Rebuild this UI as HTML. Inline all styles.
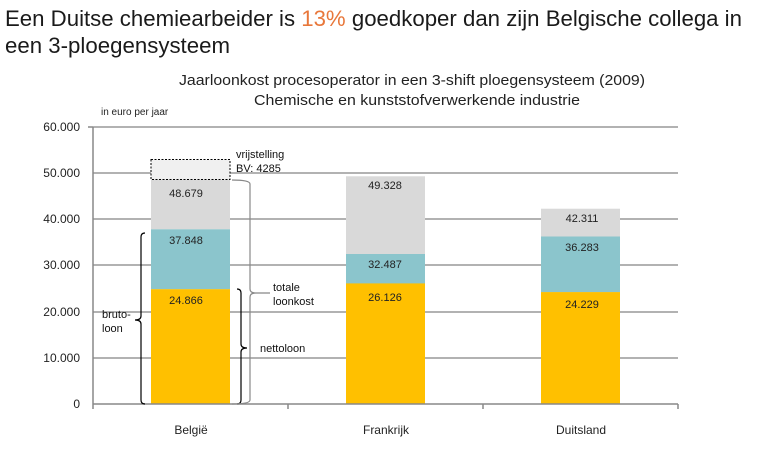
<!DOCTYPE html>
<html><head><meta charset="utf-8"><style>
html,body{margin:0;padding:0;background:#fff;}
svg{display:block;}
</style></head><body>
<svg width="773" height="456" viewBox="0 0 773 456" xmlns="http://www.w3.org/2000/svg" font-family="'Liberation Sans', sans-serif">
<text x="5" y="26" font-size="22" fill="#1a1a1a" textLength="737" lengthAdjust="spacingAndGlyphs">Een Duitse chemiearbeider is <tspan fill="#E8773A">13%</tspan> goedkoper dan zijn Belgische collega in</text>
<text x="5" y="53" font-size="22" fill="#1a1a1a" textLength="225" lengthAdjust="spacingAndGlyphs">een 3-ploegensysteem</text>
<text x="412" y="85" font-size="15" fill="#222" text-anchor="middle" textLength="466" lengthAdjust="spacingAndGlyphs">Jaarloonkost procesoperator in een 3-shift ploegensysteem (2009)</text>
<text x="417" y="105" font-size="15" fill="#222" text-anchor="middle" textLength="326" lengthAdjust="spacingAndGlyphs">Chemische en kunststofverwerkende industrie</text>
<text x="101" y="115" font-size="10" fill="#222">in euro per jaar</text>
<g stroke="#999" stroke-width="1.5">
<line x1="93" y1="127" x2="678" y2="127"/><line x1="93" y1="173" x2="678" y2="173"/><line x1="93" y1="219" x2="678" y2="219"/><line x1="93" y1="265" x2="678" y2="265"/><line x1="93" y1="312" x2="678" y2="312"/><line x1="93" y1="358" x2="678" y2="358"/>
</g>
<g font-size="12" fill="#222" text-anchor="end">
<text x="80" y="131">60.000</text><text x="80" y="177">50.000</text><text x="80" y="223">40.000</text><text x="80" y="269">30.000</text><text x="80" y="316">20.000</text><text x="80" y="362">10.000</text><text x="80" y="408">0</text>
</g>
<rect x="151" y="179.3" width="79" height="50" fill="#D9D9D9"/>
<rect x="151" y="229.3" width="79" height="60" fill="#8BC5CC"/>
<rect x="151" y="289.2" width="79" height="114.8" fill="#FFC000"/>
<rect x="151" y="159.5" width="79" height="20" fill="#F0F0F0" stroke="#000" stroke-width="1" stroke-dasharray="2,1.5"/>
<rect x="346" y="176.3" width="79" height="78" fill="#D9D9D9"/>
<rect x="346" y="254" width="79" height="29.6" fill="#8BC5CC"/>
<rect x="346" y="283.4" width="79" height="120.6" fill="#FFC000"/>
<rect x="541" y="208.7" width="79" height="28" fill="#D9D9D9"/>
<rect x="541" y="236.5" width="79" height="55.8" fill="#8BC5CC"/>
<rect x="541" y="292.1" width="79" height="111.9" fill="#FFC000"/>
<g stroke="#888" stroke-width="1.5">
<line x1="93" y1="127" x2="93" y2="404"/><line x1="88" y1="127" x2="93" y2="127"/>
<line x1="93" y1="404" x2="678" y2="404"/>
<line x1="93" y1="404" x2="93" y2="409"/><line x1="288" y1="404" x2="288" y2="409"/><line x1="483" y1="404" x2="483" y2="409"/><line x1="678" y1="404" x2="678" y2="409"/>
</g>
<g font-size="11" fill="#222" text-anchor="middle">
<text x="186" y="197">48.679</text><text x="186" y="244">37.848</text><text x="186" y="304">24.866</text>
<text x="385" y="189">49.328</text><text x="385" y="268">32.487</text><text x="385" y="301">26.126</text>
<text x="582" y="222">42.311</text><text x="582" y="251">36.283</text><text x="582" y="308">24.229</text>
</g>
<g font-size="12" fill="#222" text-anchor="middle">
<text x="191" y="434">België</text><text x="386" y="434">Frankrijk</text><text x="581" y="434">Duitsland</text>
</g>
<g fill="none" stroke-width="1.2">
<path d="M145,233 Q141,233 141,237 L141,316 Q141,320 135,320 Q141,320 141,324 L141,400 Q141,404 145,404" stroke="#000"/>
<path d="M237,289 Q241,289 241,293 L241,344 Q241,348 247,348 Q241,348 241,352 L241,400 Q241,404 237,404" stroke="#000"/>
<path d="M232,180 Q250,180 250,184 L250,289 Q250,293 256,293 L270,293 M256,293 Q250,293 250,297 L250,400 Q250,404 232,404" stroke="#888"/>
</g>
<g font-size="11" fill="#111">
<text x="236" y="158">vrijstelling</text><text x="236" y="172">BV: 4285</text>
<text x="273" y="291">totale</text><text x="273" y="305">loonkost</text>
<text x="260" y="352">nettoloon</text>
<text x="102" y="318">bruto-</text><text x="102" y="332">loon</text>
</g>
</svg>
</body></html>
